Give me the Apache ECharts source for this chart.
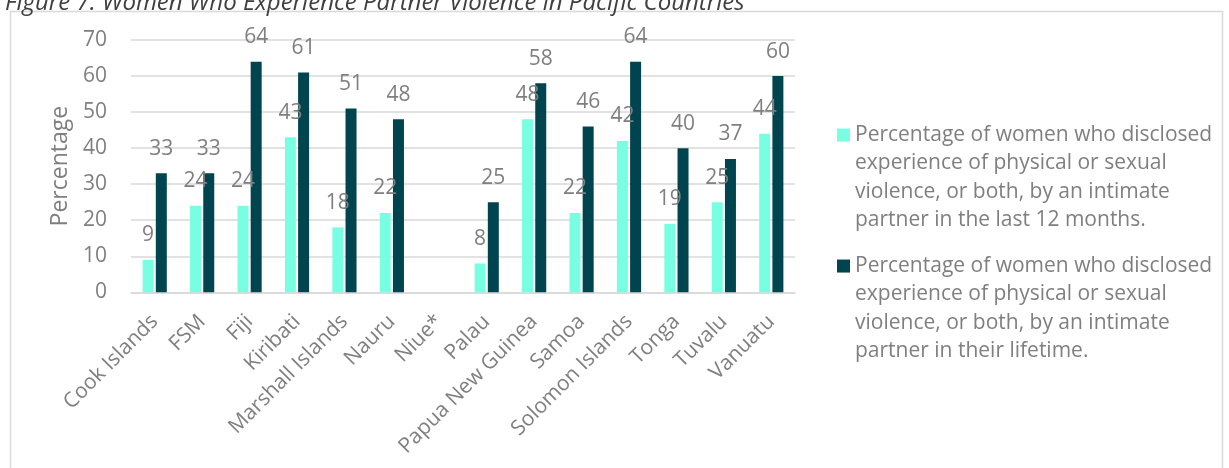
<!DOCTYPE html>
<html>
<head>
<meta charset="utf-8">
<script src="https://cdn.jsdelivr.net/npm/echarts@6/dist/echarts.min.js"></script>
<style>
html,body{margin:0;padding:0;background:#fff;}
#chart{width:1229px;height:468px;}
</style>
</head>
<body>
<div id="chart"></div>
<script>
const titleText = 'Figure 7: Women Who Experience Partner Violence in Pacific Countries';
const categories = ['Cook Islands','FSM','Fiji','Kiribati','Marshall Islands','Nauru','Niue*','Palau','Papua New Guinea','Samoa','Solomon Islands','Tonga','Tuvalu','Vanuatu'];
const last12Months = [9,24,24,43,18,22,null,8,48,22,42,19,25,44];
const lifetime = [33,33,64,61,51,48,null,25,58,46,64,40,37,60];
const seriesNames = [
  'Percentage of women who disclosed experience of physical or sexual violence, or both, by an intimate partner in the last 12 months.',
  'Percentage of women who disclosed experience of physical or sexual violence, or both, by an intimate partner in their lifetime.'
];
const legendLines = [
  ['Percentage of women who disclosed','experience of physical or sexual','violence, or both, by an intimate','partner in the last 12 months.'],
  ['Percentage of women who disclosed','experience of physical or sexual','violence, or both, by an intimate','partner in their lifetime.']
];
const yTicks = {min:0, max:70, interval:10};
const axisName = 'Percentage';

const FONT = '"Open Sans", sans-serif';
const GRAY = '#7f7f7f';
const colors = ['#78FFE2','#00444F'];
const LH = 28.3;

const chart = echarts.init(document.getElementById('chart'), null, {renderer:'canvas'});

function makeLegend(i, top) {
  return {
    data: [seriesNames[i]],
    left: 837, top: top, padding: 0,
    orient: 'vertical',
    itemWidth: 13, itemHeight: 13, itemGap: 0,
    icon: 'rect',
    selectedMode: false,
    // three blank lines above so that the icon (centred on the block) sits on the first text line
    formatter: () => '\n\n\n' + legendLines[i].join('\n'),
    textStyle: {fontFamily: FONT, fontSize: 21, color: GRAY, lineHeight: LH}
  };
}

chart.setOption({
  animation: false,
  title: {
    text: titleText, left: 0, top: -14, padding: 5,
    textStyle: {fontFamily: FONT, fontSize: 24, fontStyle: 'italic', fontWeight: 'normal', color: '#404040'}
  },
  graphic: [{
    type: 'rect', silent: true, z: -1,
    shape: {x: 10.5, y: 11.5, width: 1212, height: 470},
    style: {fill: 'none', stroke: '#d9d9d9', lineWidth: 1.5}
  }],
  legend: [makeLegend(0, 36), makeLegend(1, 167)],
  grid: {left: 131, right: 434, top: 40, bottom: 175.7, containLabel: false},
  xAxis: {
    type: 'category', data: categories,
    axisLine: {lineStyle: {color: '#d9d9d9', width: 1.5}},
    axisTick: {show: false},
    axisLabel: {rotate: 45, margin: 26, interval: 0, fontFamily: FONT, fontSize: 21, color: GRAY}
  },
  yAxis: {
    type: 'value', min: yTicks.min, max: yTicks.max, interval: yTicks.interval,
    name: axisName, nameLocation: 'middle', nameGap: 59, nameRotate: 90,
    nameTextStyle: {fontFamily: FONT, fontSize: 23, color: GRAY},
    axisLine: {show: false}, axisTick: {show: false},
    axisLabel: {margin: 24, fontFamily: FONT, fontSize: 21, color: GRAY},
    splitLine: {lineStyle: {color: '#d9d9d9', width: 1.5}}
  },
  series: [
    {
      name: seriesNames[0], type: 'bar', data: last12Months,
      barWidth: 11, barGap: '20%',
      itemStyle: {color: colors[0]},
      label: {show: true, position: 'top', distance: 14, fontFamily: FONT, fontSize: 21, color: GRAY}
    },
    {
      name: seriesNames[1], type: 'bar', data: lifetime,
      barWidth: 11, barGap: '20%',
      itemStyle: {color: colors[1]},
      label: {show: true, position: 'top', distance: 14, fontFamily: FONT, fontSize: 21, color: GRAY}
    }
  ]
});
</script>
</body>
</html>
